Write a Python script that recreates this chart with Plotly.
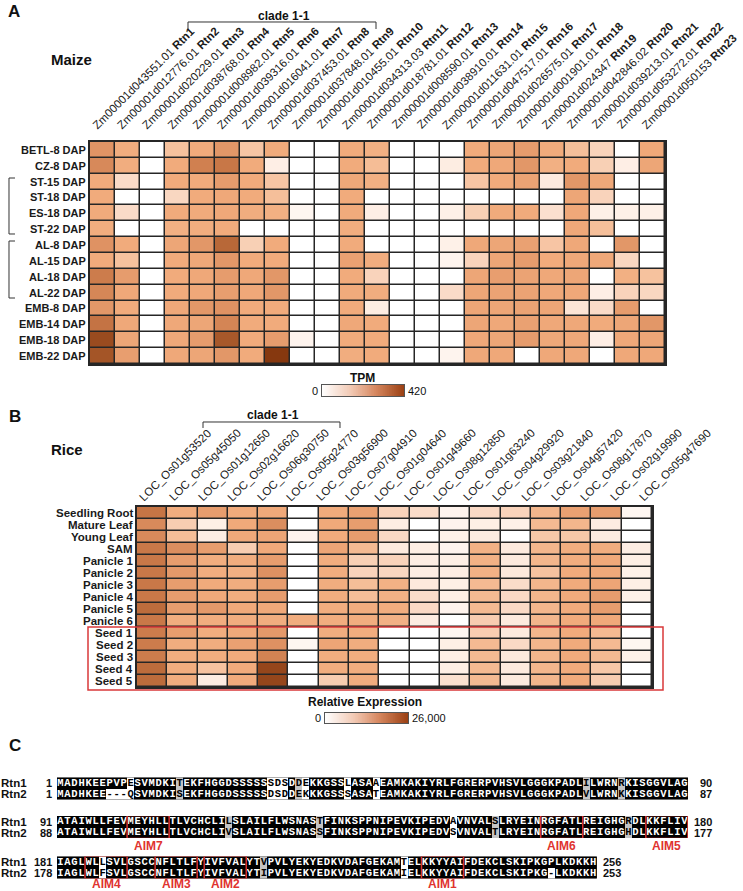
import plotly.graph_objects as go

W, H = 743, 891
def fx(p): return p / W
def fy(p): return 1 - p / H

FONT = "Liberation Sans, Arial, sans-serif"
MONO = "Liberation Mono, DejaVu Sans Mono, monospace"

# ---------------- Panel A : maize ----------------
maize_ids = ["Zm00001d043551.01", "Zm00001d012776.01", "Zm00001d020229.01", "Zm00001d038768.01",
             "Zm00001d008982.01", "Zm00001d039316.01", "Zm00001d016041.01", "Zm00001d037453.01",
             "Zm00001d037848.01", "Zm00001d010455.01", "Zm00001d034313.03", "Zm00001d018781.01",
             "Zm00001d008590.01", "Zm00001d038910.01", "Zm00001d011631.01", "Zm00001d047517.01",
             "Zm00001d026575.01", "Zm00001d001901.01", "Zm00001d024347", "Zm00001d042846.02",
             "Zm00001d039213.01", "Zm00001d053272.01", "Zm00001d050153"]
maize_names = ["Rtn1", "Rtn2", "Rtn3", "Rtn4", "Rtn5", "Rtn6", "Rtn7", "Rtn8", "Rtn9", "Rtn10",
               "Rtn11", "Rtn12", "Rtn13", "Rtn14", "Rtn15", "Rtn16", "Rtn17", "Rtn18", "Rtn19",
               "Rtn20", "Rtn21", "Rtn22", "Rtn23"]
maize_tissues = ["BETL-8 DAP", "CZ-8 DAP", "ST-15 DAP", "ST-18 DAP", "ES-18 DAP", "ST-22 DAP",
                 "AL-8 DAP", "AL-15 DAP", "AL-18 DAP", "AL-22 DAP", "EMB-8 DAP", "EMB-14 DAP",
                 "EMB-18 DAP", "EMB-22 DAP"]
maize_tpm = [
    [155, 105, 0, 65, 110, 150, 60, 110, 0, 0, 110, 100, 0, 0, 0, 110, 120, 140, 110, 70, 40, 0, 115],
    [180, 105, 0, 110, 200, 220, 110, 10, 0, 0, 110, 75, 0, 0, 12, 110, 115, 150, 100, 110, 45, 10, 120],
    [110, 30, 0, 110, 110, 140, 110, 60, 0, 0, 115, 100, 0, 0, 0, 60, 110, 125, 15, 150, 115, 0, 0],
    [110, 0, 0, 35, 110, 115, 110, 70, 0, 0, 110, 0, 0, 0, 0, 0, 0, 0, 0, 120, 40, 0, 0],
    [110, 30, 0, 110, 110, 115, 105, 100, 5, 0, 110, 10, 0, 0, 8, 45, 110, 110, 25, 115, 8, 8, 8],
    [105, 0, 0, 100, 105, 110, 0, 0, 0, 0, 105, 0, 0, 0, 0, 0, 0, 0, 0, 115, 70, 0, 0],
    [160, 110, 0, 120, 150, 260, 45, 110, 0, 0, 110, 0, 0, 0, 8, 115, 120, 130, 60, 115, 0, 150, 0],
    [110, 65, 0, 110, 115, 150, 110, 110, 0, 0, 130, 105, 0, 0, 6, 40, 120, 140, 110, 115, 115, 35, 0],
    [210, 140, 0, 110, 115, 140, 115, 150, 0, 0, 110, 40, 0, 0, 0, 120, 135, 125, 115, 120, 0, 100, 65],
    [185, 115, 0, 110, 115, 135, 115, 150, 0, 0, 110, 105, 0, 0, 30, 120, 125, 125, 115, 115, 10, 40, 35],
    [150, 110, 0, 115, 150, 160, 110, 110, 0, 0, 110, 12, 0, 0, 0, 120, 120, 125, 120, 20, 30, 140, 0],
    [230, 115, 0, 115, 120, 190, 110, 110, 0, 0, 115, 110, 0, 0, 0, 120, 115, 130, 115, 115, 110, 120, 150],
    [340, 120, 0, 115, 140, 300, 110, 140, 6, 0, 110, 110, 0, 0, 0, 115, 120, 140, 115, 115, 10, 115, 120],
    [310, 135, 0, 115, 120, 150, 110, 400, 0, 0, 105, 110, 0, 0, 6, 115, 115, 0, 115, 115, 0, 115, 115],
]
maize_max = 420

# ---------------- Panel B : rice ----------------
rice_ids = ["LOC_Os01g53520", "LOC_Os05g45050", "LOC_Os01g12650", "LOC_Os02g16620", "LOC_Os06g30750",
            "LOC_Os05g24770", "LOC_Os03g56900", "LOC_Os07g04910", "LOC_Os01g04640", "LOC_Os01g49660",
            "LOC_Os08g12850", "LOC_Os01g63240", "LOC_Os04g29920", "LOC_Os03g21840", "LOC_Os04g57420",
            "LOC_Os08g17870", "LOC_Os02g19990", "LOC_Os05g47690"]
rice_tissues = ["Seedling Root", "Mature Leaf", "Young Leaf", "SAM", "Panicle 1", "Panicle 2",
                "Panicle 3", "Panicle 4", "Panicle 5", "Panicle 6", "Seed 1", "Seed 2", "Seed 3",
                "Seed 4", "Seed 5"]
rice_expr = [
    [14000, 6500, 8500, 6800, 7000, 0, 6800, 8000, 2500, 1800, 400, 2000, 2500, 5500, 8000, 8500, 300],
    [11000, 3000, 600, 7000, 10500, 0, 7000, 8500, 700, 0, 400, 600, 500, 5000, 5500, 800, 0],
    [11000, 4500, 700, 7000, 7500, 400, 6800, 8500, 2000, 0, 500, 800, 0, 3500, 3500, 800, 0],
    [13500, 10500, 8500, 3000, 7000, 0, 7500, 5000, 900, 600, 400, 6000, 900, 5500, 6500, 6500, 700],
    [13500, 8500, 6500, 6500, 8500, 0, 6500, 2800, 2500, 700, 600, 6000, 900, 5500, 6500, 7000, 600],
    [13500, 9000, 6500, 6200, 10000, 0, 6500, 2500, 2200, 700, 700, 6000, 1000, 4000, 6800, 7000, 500],
    [13500, 8500, 6800, 6500, 8500, 0, 6500, 4500, 6000, 1000, 600, 5000, 1800, 5500, 6800, 7500, 600],
    [13500, 8500, 7000, 6500, 8500, 0, 6500, 4500, 6000, 1800, 600, 5000, 2000, 5500, 6800, 8500, 500],
    [15500, 8500, 9000, 7000, 7000, 0, 6500, 6500, 6500, 2000, 400, 5000, 2000, 5500, 6800, 8500, 0],
    [13500, 6500, 6500, 6500, 6500, 6500, 6500, 6500, 6000, 800, 0, 3000, 900, 5500, 6800, 7000, 0],
    [13000, 8500, 6500, 7000, 9000, 0, 6500, 6500, 0, 0, 300, 3000, 900, 5500, 6800, 5000, 0],
    [13000, 6500, 6500, 8000, 10000, 300, 7500, 6500, 0, 0, 600, 5000, 2000, 5500, 6800, 5000, 300],
    [13000, 6500, 6500, 6800, 12000, 0, 6500, 6500, 0, 0, 600, 5000, 1000, 5500, 6800, 5000, 500],
    [15500, 6500, 4000, 6800, 22000, 0, 6500, 6500, 0, 0, 600, 5000, 900, 5500, 6800, 3500, 0],
    [15500, 6500, 800, 6800, 22000, 0, 3000, 6500, 0, 0, 1500, 5000, 900, 5500, 6800, 3000, 0],
]
rice_max = 26000

# ---------------- Panel C : alignment ----------------
seq_names = ["Rtn1", "Rtn2"]
blk1_seq = ["MADHKEEPVPESVMDKITEKFHGGDSSSSSSDSDDEKKGSSLASAAEAMKAKIYRLFGRERPVHSVLGGGKPADLILWRNRKISGGVLAG",
            "MADHKEE---QSVMDKISEKFHGGDSSSSSDSDDEKKKGSSSASATEAMKAKIYRLFGRERPVHSVLGGGKPADLVLWRNKKISGGVLAG"]
blk1_shade = ["BBBBBBBBBBWBBBBBBGBBBBBBBBBBBBWWWBGWBBBBBWBBBWBBBBBBBBBBBBBBBBBBBBBBBBBBBBBGBBBBGBBBBBBBBB",
              "BBBBBBBWWWWBBBBBBGBBBBBBBBBBBBWWWBGWBBBBBWBBBWBBBBBBBBBBBBBBBBBBBBBBBBBBBBBGBBBBGBBBBBBBBB"]
blk1_start = [1, 1]
blk1_end = [90, 87]

blk2_seq = ["ATAIWLLFEVMEYHLLTLVCHCLILSLAILFLWSNASTFINKSPPNIPEVKIPEDVAVNVALSLRYEINRGFATLREIGHGRDLKKFLIV",
            "ATAIWLLFEVMEYHLLTLVCHCLIVSLAILFLWSNASSFINKSPPNIPEVKIPEDVSVNVALTLRYEINRGFATLREIGHGHDLKKFLIV"]
blk2_shade = ["BBBBBBBBBBBBBBBBBBBBBBBBGBBBBBBBBBBBBGBBBBBBBBBBBBBBBBBBWBBBBBGBBBBBBBBBBBBBBBBBBGBBBBBBBB",
              "BBBBBBBBBBBBBBBBBBBBBBBBGBBBBBBBBBBBBGBBBBBBBBBBBBBBBBBBWBBBBBGBBBBBBBBBBBBBBBBBBGBBBBBBBB"]
blk2_start = [91, 88]
blk2_end = [180, 177]

blk3_seq = ["IAGLWLLSVLGSCCNFLTLFYIVFVALYTVPVLYEKYEDKVDAFGEKAMTELKKYYAIFDEKCLSKIPKGPLKDKKH",
            "IAGLWLFSVLGSCCNFLTLFYIVFVALYTIPVLYEKYEDKVDAFGEKAMIELKKYYAIFDEKCLSKIPKG-LKDKKH"]
blk3_shade = ["BBBBBBWBBBBBBBBBBBBBBBBBBBBBBGBBBBBBBBBBBBBBBBBBBWBBBBBBBBBBBBBBBBBBBBBBBBBBB",
              "BBBBBBWBBBBBBBBBBBBBBBBBBBBBBGBBBBBBBBBBBBBBBBBBBWBBBBBBBBBBBBBBBBBBBBWBBBBBB"]
blk3_start = [181, 178]
blk3_end = [256, 253]

# motif boxes: (block, first column, last column, label)
aim_motifs = [(2, 11, 16, "AIM7"), (2, 70, 75, "AIM6"), (2, 85, 90, "AIM5"),
              (3, 5, 10, "AIM4"), (3, 15, 20, "AIM3"), (3, 22, 27, "AIM2"), (3, 53, 58, "AIM1")]

# ---------------- styling ----------------
cell_cs = [[0, '#ffffff'], [0.02, '#fef0e7'], [0.085, '#f9d6c0'], [0.155, '#f6c29e'],
           [0.26, '#f1ab7c'], [0.36, '#e29667'], [0.52, '#c97848'], [0.71, '#a8592a'],
           [0.95, '#86380f'], [1, '#82340c']]
legend_cs = [[0, '#ffffff'], [0.35, '#f2c9b4'], [0.65, '#d6875f'], [1, '#9a3f12']]
shade_cs = [[0, '#ffffff'], [0.33, '#ffffff'], [0.34, '#c4c4c4'], [0.66, '#c4c4c4'],
            [0.67, '#000000'], [1, '#000000']]
GRID = '#262626'

fig = go.Figure()
annotations = []
shapes = []

def base_axis(dom, **kw):
    d = dict(domain=dom, showgrid=False, zeroline=False, ticks='', fixedrange=True, showticklabels=False)
    d.update(kw)
    return d

layout_axes = {}

# maize heatmap
fig.add_trace(go.Heatmap(z=maize_tpm, x=list(range(len(maize_ids))), y=list(range(len(maize_tissues))),
                         colorscale=cell_cs, zmin=0, zmax=maize_max, showscale=False,
                         xgap=1.5, ygap=1.5, hoverinfo='skip', xaxis='x', yaxis='y'))
layout_axes['xaxis'] = base_axis([fx(90), fx(665)], anchor='y', range=[-0.5, len(maize_ids) - 0.5],
                                 showline=True, mirror=True, linecolor=GRID, linewidth=1.5)
layout_axes['yaxis'] = base_axis([fy(364), fy(142)], anchor='x', range=[len(maize_tissues) - 0.5, -0.5],
                                 showline=True, mirror=True, linecolor=GRID, linewidth=1.5)
for i, t in enumerate(maize_tissues):
    annotations.append(dict(x=fx(87), y=i, xref='paper', yref='y', text=t, showarrow=False,
                            xanchor='right', yanchor='middle', borderpad=0,
                            font=dict(family=FONT, size=11, color='#1a1a1a', weight='bold')))

# maize legend bar
n_leg = 120
leg_vals = [maize_max * k / (n_leg - 1) for k in range(n_leg)]
fig.add_trace(go.Heatmap(z=[leg_vals], x=leg_vals, y=[0], colorscale=legend_cs, zmin=0, zmax=maize_max,
                         showscale=False, hoverinfo='skip', xaxis='x2', yaxis='y2'))
layout_axes['xaxis2'] = base_axis([fx(322), fx(404)], anchor='y2', range=[0, maize_max],
                                  showline=True, mirror=True, linecolor='#555', linewidth=1)
layout_axes['yaxis2'] = base_axis([fy(396), fy(385)], anchor='x2', range=[-0.5, 0.5],
                                  showline=True, mirror=True, linecolor='#555', linewidth=1)

# rice heatmap
n_rice_cols = len(rice_expr[0])
fig.add_trace(go.Heatmap(z=rice_expr, x=list(range(n_rice_cols)), y=list(range(len(rice_tissues))),
                         colorscale=cell_cs, zmin=0, zmax=rice_max, showscale=False,
                         xgap=1.5, ygap=1.5, hoverinfo='skip', xaxis='x3', yaxis='y3'))
layout_axes['xaxis3'] = base_axis([fx(137), fx(652)], anchor='y3', range=[-0.5, n_rice_cols - 0.5],
                                  showline=True, mirror=True, linecolor=GRID, linewidth=1.5)
layout_axes['yaxis3'] = base_axis([fy(687), fy(507)], anchor='x3', range=[len(rice_tissues) - 0.5, -0.5],
                                  showline=True, mirror=True, linecolor=GRID, linewidth=1.5)
for i, t in enumerate(rice_tissues):
    annotations.append(dict(x=fx(134), y=i, xref='paper', yref='y3', text=t, showarrow=False,
                            xanchor='right', yanchor='middle', borderpad=0,
                            font=dict(family=FONT, size=11.5, color='#1a1a1a', weight='bold')))

# rice legend bar
rleg_vals = [rice_max * k / (n_leg - 1) for k in range(n_leg)]
fig.add_trace(go.Heatmap(z=[rleg_vals], x=rleg_vals, y=[0], colorscale=legend_cs, zmin=0, zmax=rice_max,
                         showscale=False, hoverinfo='skip', xaxis='x4', yaxis='y4'))
layout_axes['xaxis4'] = base_axis([fx(325), fx(408)], anchor='y4', range=[0, rice_max],
                                  showline=True, mirror=True, linecolor='#555', linewidth=1)
layout_axes['yaxis4'] = base_axis([fy(723), fy(713)], anchor='x4', range=[-0.5, 0.5],
                                  showline=True, mirror=True, linecolor='#555', linewidth=1)

# ---------------- alignment blocks ----------------
CHAR_W = 7.01
SEQ_X0 = 57
blocks = [
    (blk1_seq, blk1_shade, blk1_start, blk1_end, (783, 794), None),
    (blk2_seq, blk2_shade, blk2_start, blk2_end, (821.5, 832.5), 846),
    (blk3_seq, blk3_shade, blk3_start, blk3_end, (862, 873), 884),
]
code = {'W': 0, 'G': 1, 'B': 2}
for bi, (seqs, shades, starts, ends, rows_y, lab_y) in enumerate(blocks):
    ax_n = 5 + bi
    xa, ya = 'x%d' % ax_n, 'y%d' % ax_n
    n = len(seqs[0])
    z = [[code[c] for c in s] for s in shades]
    fig.add_trace(go.Heatmap(z=z, x=list(range(n)), y=[0, 1], colorscale=shade_cs, zmin=0, zmax=2,
                             showscale=False, hoverinfo='skip', xaxis=xa, yaxis=ya))
    for r in range(2):
        fig.add_trace(go.Scatter(x=list(range(n)), y=[r] * n, mode='text', text=list(seqs[r]),
                                 textposition='middle center', hoverinfo='skip', showlegend=False,
                                 textfont=dict(family=MONO, size=10.5, weight='bold',
                                               color=['#ffffff' if c == 'B' else '#000000' for c in shades[r]]),
                                 xaxis=xa, yaxis=ya))
    x_end = SEQ_X0 + n * CHAR_W
    rh = rows_y[1] - rows_y[0]
    top = rows_y[0] - rh / 2
    bot = rows_y[1] + rh / 2
    layout_axes['xaxis%d' % ax_n] = base_axis([fx(SEQ_X0), fx(x_end)], anchor=ya, range=[-0.5, n - 0.5])
    layout_axes['yaxis%d' % ax_n] = base_axis([fy(bot), fy(top)], anchor=xa, range=[1.5, -0.5])
    for r in range(2):
        annotations.append(dict(x=fx(0), y=fy(rows_y[r]), xref='paper', yref='paper', text=seq_names[r],
                                showarrow=False, xanchor='left', yanchor='middle', borderpad=0,
                                font=dict(family=FONT, size=11.5, color='#111', weight='bold')))
        annotations.append(dict(x=fx(53), y=fy(rows_y[r]), xref='paper', yref='paper', text=str(starts[r]),
                                showarrow=False, xanchor='right', yanchor='middle', borderpad=0,
                                font=dict(family=FONT, size=11, color='#111', weight='bold')))
        annotations.append(dict(x=fx(x_end + 25), y=fy(rows_y[r]), xref='paper', yref='paper',
                                text=str(ends[r]), showarrow=False, xanchor='right', yanchor='middle',
                                borderpad=0, font=dict(family=FONT, size=11, color='#111', weight='bold')))
    for (mb, c0, c1, lab) in aim_motifs:
        if mb != bi + 1:
            continue
        shapes.append(dict(type='rect', xref=xa, yref=ya, x0=c0 - 1.5, x1=c1 - 0.5, y0=-0.55, y1=1.55,
                           line=dict(color='#d8302e', width=1.5), fillcolor='rgba(0,0,0,0)'))
        annotations.append(dict(x=(c0 + c1) / 2 - 1, y=fy(lab_y), xref=xa, yref='paper', text=lab,
                                showarrow=False, xanchor='center', yanchor='middle', borderpad=0,
                                font=dict(family=FONT, size=12, color='#e0332f', weight='bold')))

# ---------------- texts ----------------
def txt(x, y, s, size=12, bold=True, xanchor='center', yanchor='middle', color='#111', angle=0):
    annotations.append(dict(x=fx(x), y=fy(y), xref='paper', yref='paper', text=s, showarrow=False,
                            xanchor=xanchor, yanchor=yanchor, textangle=angle, borderpad=0,
                            font=dict(family=FONT, size=size, color=color, weight='bold' if bold else 'normal')))

txt(7, 1, 'A', size=17, xanchor='left', yanchor='top')
txt(50, 59, 'Maize', size=15, xanchor='left')
txt(284, 16, 'clade 1-1', size=12)
txt(362, 378, 'TPM', size=12)
txt(319, 391, '0', size=11, bold=False, xanchor='right')
txt(407, 391, str(maize_max), size=11, bold=False, xanchor='left')

txt(8, 406, 'B', size=17, xanchor='left', yanchor='top')
txt(50, 449, 'Rice', size=15, xanchor='left')
txt(273, 415, 'clade 1-1', size=12)
txt(365, 702, 'Relative Expression', size=12)
txt(322, 718, '0', size=11, bold=False, xanchor='right')
txt(411, 718, '{:,}'.format(rice_max), size=11, bold=False, xanchor='left')

txt(8, 735, 'C', size=17, xanchor='left', yanchor='top')

# rotated gene labels
LAB_H = 14
for i, (gid, nm) in enumerate(zip(maize_ids, maize_names)):
    sx = 100 + 25 * i
    annotations.append(dict(x=fx(sx - 0.707 * LAB_H), y=fy(131), xref='paper', yref='paper',
                            text=gid + ' <b>' + nm + '</b>', showarrow=False, textangle=-45,
                            xanchor='left', yanchor='bottom', borderpad=0, borderwidth=0,
                            font=dict(family=FONT, size=11.5, color='#1a1a1a')))
for i, gid in enumerate(rice_ids):
    sx = 147 + 29.4 * i
    annotations.append(dict(x=fx(sx - 0.707 * LAB_H), y=fy(503), xref='paper', yref='paper',
                            text=gid, showarrow=False, textangle=-45,
                            xanchor='left', yanchor='bottom', borderpad=0, borderwidth=0,
                            font=dict(family=FONT, size=11.5, color='#1a1a1a')))

# brackets
def path(pts):
    return 'M ' + ' L '.join('%f,%f' % (fx(a), fy(b)) for a, b in pts)

line_k = dict(color='#333', width=1)
shapes.append(dict(type='path', xref='paper', yref='paper', path=path([(15, 178), (9, 178), (9, 234), (15, 234)]), line=line_k))
shapes.append(dict(type='path', xref='paper', yref='paper', path=path([(15, 241), (9, 241), (9, 298), (15, 298)]), line=line_k))
shapes.append(dict(type='path', xref='paper', yref='paper', path=path([(188, 29), (188, 22), (376, 22), (376, 29)]), line=line_k))
shapes.append(dict(type='path', xref='paper', yref='paper', path=path([(203, 428), (203, 422), (340, 422), (340, 428)]), line=line_k))
# seed highlight box
shapes.append(dict(type='rect', xref='paper', yref='paper', x0=fx(88), x1=fx(663), y0=fy(690), y1=fy(627),
                   line=dict(color='#d9383a', width=1.5), fillcolor='rgba(0,0,0,0)'))

fig.update_layout(width=W, height=H, autosize=False, margin=dict(l=0, r=0, t=0, b=0),
                  paper_bgcolor='white', plot_bgcolor=GRID, showlegend=False, hovermode=False,
                  annotations=annotations, shapes=shapes, **layout_axes)

fig.write_html("out.html", config={'displayModeBar': False},
               post_script="document.body.style.margin='0px';document.body.style.padding='0px';"
                           "document.documentElement.style.overflow='hidden';")
